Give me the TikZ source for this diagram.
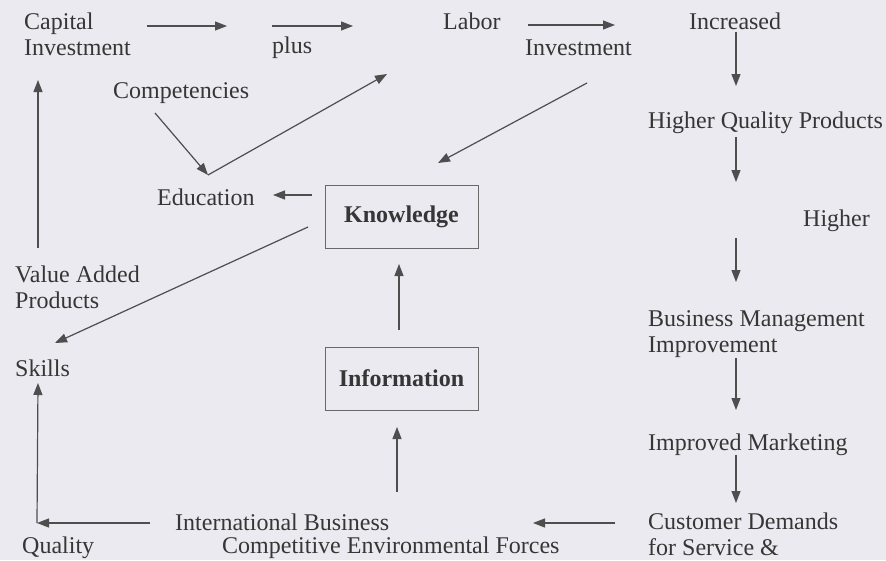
\documentclass[tikz,border=0pt]{standalone}
\usepackage{fontspec}
\setmainfont{Liberation Serif}
\usetikzlibrary{arrows.meta}
\definecolor{paper}{HTML}{EAEAF0}
\definecolor{ink}{HTML}{363636}
\definecolor{wire}{HTML}{4E4E4E}
\begin{document}
\begin{tikzpicture}[x=1pt,y=-1pt,
  lbl/.style={inner sep=0pt, text=ink, font=\fontsize{24}{26}\selectfont},
  ml/.style={lbl, align=left, anchor=north west},
  sl/.style={lbl, anchor=base west},
  box/.style={draw=wire!85, line width=0.9pt, minimum width=153pt, minimum height=63pt,
              inner sep=0pt, text=ink, font=\fontsize{24}{26}\selectfont\bfseries},
  link/.style={draw=wire, line width=1.2pt, -{Triangle[length=12pt,width=9pt]}}]

% canvas
\fill[paper] (0,0) rectangle (886,560);
\useasboundingbox (0,0) rectangle (886,560);

% labels
\node[ml] (capinv) at (24,13) {Capital\\Investment};
\node[sl] (plus)   at (272,53) {plus};
\node[sl] (labor)  at (443,29) {Labor};
\node[sl] (labinv) at (525,55) {Investment};
\node[sl] (incr)   at (689,29) {Increased};
\node[sl] (hqp)    at (648,128) {Higher Quality Products};
\node[sl] (higher) at (803,226) {Higher};
\node[ml] (bmi)    at (648,310) {Business Management\\Improvement};
\node[sl] (imk)    at (648,450) {Improved Marketing};
\node[ml] (cust)   at (648,513) {Customer Demands\\for Service \&};
\node[sl] (ib)     at (175,530) {International Business};
\node[sl] (cef)    at (222,553) {Competitive Environmental Forces};
\node[sl] (qual)   at (22,553) {Quality};
\node[sl] (skills) at (15,376) {Skills};
\node[ml] (vap)    at (15,266) {Value Added\\Products};
\node[sl] (edu)    at (157,205) {Education};
\node[sl] (comp)   at (113,98) {Competencies};

% boxed concepts
\node[box] (know) at (401.5,216.5) {Knowledge};
\node[box] (info) at (401.5,378.5) {Information};

% connector end points
\coordinate (a1s) at (147,26);  \coordinate (a1e) at (227,26);
\coordinate (a2s) at (272,26);  \coordinate (a2e) at (353,26);
\coordinate (a3s) at (528,25);  \coordinate (a3e) at (615,25);
\coordinate (d1s) at (736,32);  \coordinate (d1e) at (736,86);
\coordinate (d2s) at (736,137); \coordinate (d2e) at (736,182);
\coordinate (d3s) at (736,238); \coordinate (d3e) at (736,282);
\coordinate (d4s) at (736,358); \coordinate (d4e) at (736,410);
\coordinate (d5s) at (736,455); \coordinate (d5e) at (736,503);
\coordinate (l1s) at (615,523); \coordinate (l1e) at (533,523);
\coordinate (l2s) at (150,523); \coordinate (corner) at (37,523);
\coordinate (upskill) at (38,383);
\coordinate (vals) at (38,248); \coordinate (vale) at (38,80);
\coordinate (infs) at (397,492); \coordinate (infe) at (397,427);
\coordinate (kis) at (399,330); \coordinate (kie) at (399,264);
\coordinate (kes) at (312,195); \coordinate (kee) at (273,195);
\coordinate (kss) at (308,227); \coordinate (kse) at (55,343);
\coordinate (cps) at (155,113); \coordinate (vtx) at (208,175);
\coordinate (vup) at (387,74);
\coordinate (lis) at (587,83);  \coordinate (lie) at (438,163);

% top row
\draw[link] (a1s) -- (a1e);
\draw[link] (a2s) -- (a2e);
\draw[link] (a3s) -- (a3e);

% right column
\draw[link] (d1s) -- (d1e);
\draw[link] (d2s) -- (d2e);
\draw[link] (d3s) -- (d3e);
\draw[link] (d4s) -- (d4e);
\draw[link] (d5s) -- (d5e);

% bottom row and left column
\draw[link] (l1s) -- (l1e);
\draw[link] (l2s) -- (corner);
\draw[link] (corner) -- (upskill);
\draw[link] (vals) -- (vale);

% centre
\draw[link] (infs) -- (infe);
\draw[link] (kis) -- (kie);
\draw[link] (kes) -- (kee);
\draw[link] (kss) -- (kse);
\draw[link] (cps) -- (vtx);
\draw[link] (vtx) -- (vup);
\draw[link] (lis) -- (lie);
\end{tikzpicture}
\end{document}
